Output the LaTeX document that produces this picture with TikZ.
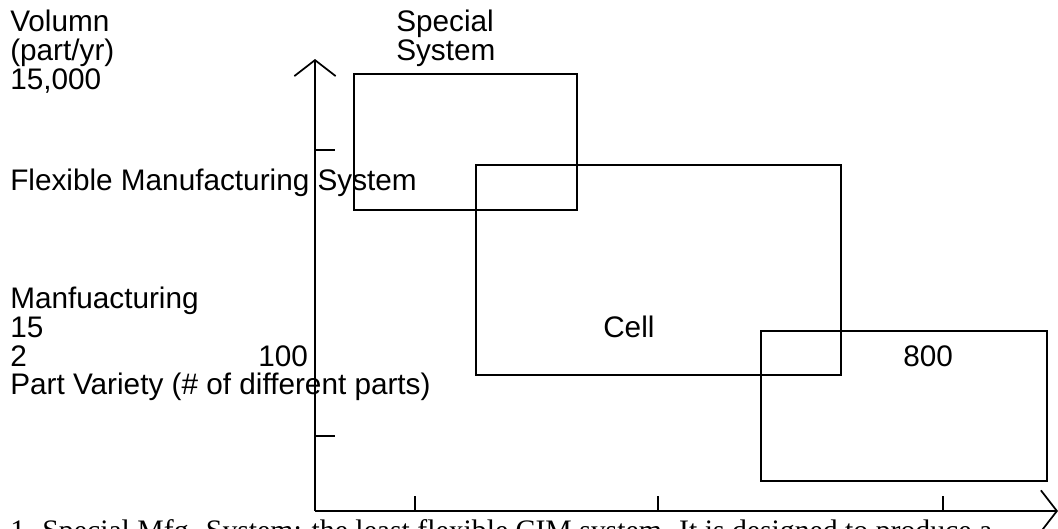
\documentclass[tikz,border=0pt]{standalone}
\usepackage{fontspec}
\setmainfont{Liberation Sans}
\newfontfamily\captionserif{Liberation Serif}
\usetikzlibrary{arrows.meta}
\begin{document}
\begin{tikzpicture}[x=0.75pt,y=-0.75pt,
		lbl/.style={anchor=base west,inner sep=0pt,font=\fontsize{22.3}{22.3}\selectfont},
		axisline/.style={line width=1.3pt,-{Straight Barb[length=12pt,width=31pt,line width=1.3pt]}},
		sysbox/.style={line width=1.3pt},
		tickmark/.style={line width=1.3pt}]
				\useasboundingbox (0,0) rectangle (1058,529);
				% axes
				\coordinate (origin) at (315,511);
				\coordinate (ytip) at (315,59);
				\coordinate (xtip) at (1058,511);
				\draw [axisline] (origin) -- (ytip);
				\draw [axisline] (origin) -- (xtip);
				\foreach \ty in {150,436}
					\draw [tickmark] (315,\ty) -- (335,\ty);
				\foreach \tx in {415,658,943}
					\draw [tickmark] (\tx,511) -- (\tx,496);
				% systems
				\draw [sysbox] (354,74) rectangle (577,210);
				\draw [sysbox] (476,165) rectangle (841,375);
				\draw [sysbox] (761,331) rectangle (1047,481);
				% labels
				\node [lbl] (vol) at (10,31) {Volumn};
				\node [lbl] (unit) at (10,60) {(part/yr)};
				\node [lbl] (vmax) at (10,89) {15,000};
				\node [lbl] (spec1) at (396,31) {Special};
				\node [lbl] (spec2) at (396,60) {System};
				\node [lbl] (fms) at (10,190) {Flexible Manufacturing System};
				\node [lbl] (mfg) at (10,308) {Manfuacturing};
				\node [lbl] (vmin) at (10,337) {15};
				\node [lbl] (pmin) at (10,366) {2};
				\node [lbl] (pmid) at (258,366) {100};
				\node [lbl] (pvar) at (10,394) {Part Variety (\# of different parts)};
				\node [lbl] (cell) at (603,337) {Cell};
				\node [lbl] (pmax) at (903,366) {800};
				\begin{scope}
					\clip (0,0) rectangle (1058,529);
					\node [lbl,font=\captionserif\fontsize{22.3}{22.3}\selectfont] (note) at (10,540) {1. Special Mfg. System: the least flexible CIM system. It is designed to produce a};
				\end{scope}
			\end{tikzpicture}
\end{document}
